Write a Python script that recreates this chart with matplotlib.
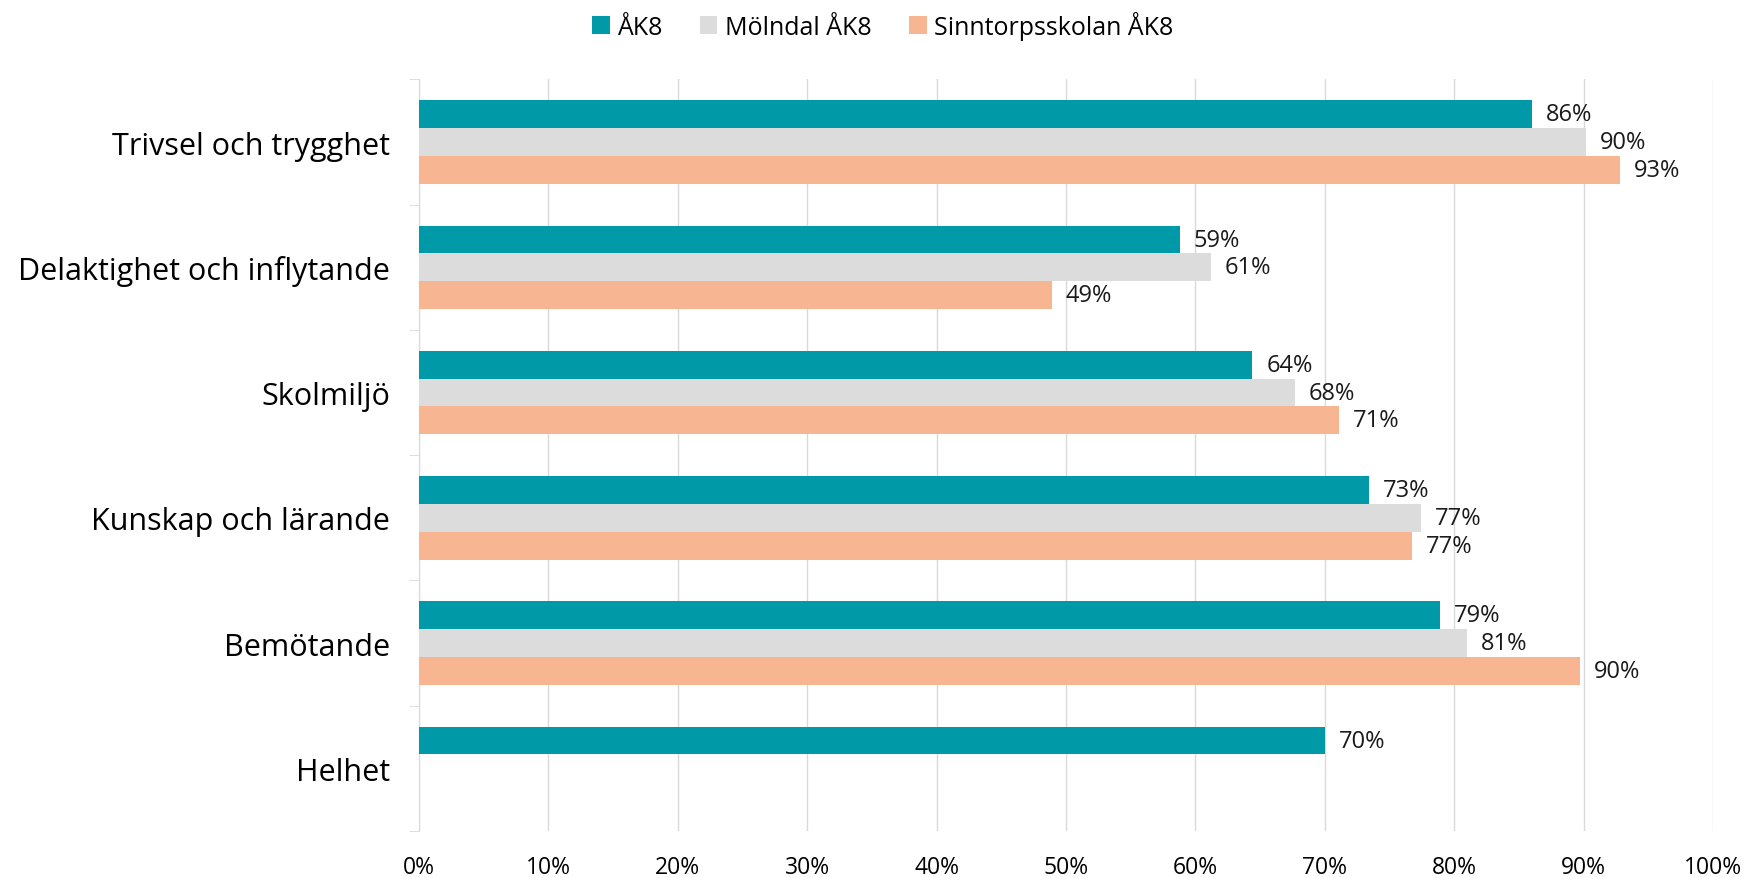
import numpy as np
import matplotlib
matplotlib.use('Agg')
import matplotlib.pyplot as plt
from matplotlib.ticker import FixedLocator, PercentFormatter

plt.rcParams['font.family'] = ['Open Sans', 'DejaVu Sans']

categories = ["Trivsel och trygghet", "Delaktighet och inflytande", "Skolmiljö",
              "Kunskap och lärande", "Bemötande", "Helhet"]
series_names = ["ÅK8", "Mölndal ÅK8", "Sinntorpsskolan ÅK8"]
ak8 = [0.86, 0.588, 0.644, 0.734, 0.789, 0.70]
molndal = [0.902, 0.612, 0.677, 0.774, 0.81, np.nan]
sinntorp = [0.928, 0.489, 0.711, 0.767, 0.897, np.nan]
value_labels = [["86%", "59%", "64%", "73%", "79%", "70%"],
                ["90%", "61%", "68%", "77%", "81%", ""],
                ["93%", "49%", "71%", "77%", "90%", ""]]
colors = ["#0099A8", "#DCDCDC", "#F8B592"]

fig = plt.figure(figsize=(17.48, 8.79), dpi=100)
ax = fig.add_axes([0.2397, 0.0535, 0.7403, 0.855])

y = np.arange(len(categories))
h = 0.222
for k, (vals, col, name) in enumerate(zip([ak8, molndal, sinntorp], colors, series_names)):
    pos = y + (k - 1) * h
    ax.barh(pos, vals, height=h, color=col, label=name, zorder=3)
    for p, v, lab in zip(pos, vals, value_labels[k]):
        if np.isnan(v):
            continue
        ax.annotate(lab, (v, p), xytext=(10, 0), textcoords="offset points",
                    va="center", ha="left", fontsize=17, color="#1a1a1a")

ax.set_ylim(len(categories) - 0.5, -0.5)
ax.set_xlim(0, 1)
ax.set_yticks(y)
ax.set_yticklabels(categories, fontsize=22)
ax.yaxis.set_minor_locator(FixedLocator(np.arange(-0.5, len(categories), 1)))
ax.tick_params(axis='y', which='major', length=0, pad=21)
ax.tick_params(axis='y', which='minor', length=7, color="#D9D9D9")

ax.set_xticks(np.arange(0, 1.01, 0.1))
ax.xaxis.set_major_formatter(PercentFormatter(1.0, decimals=0))
ax.tick_params(axis='x', length=0, labelsize=16.5, pad=17)
ax.grid(axis='x', color="#D9D9D9", linewidth=1, zorder=0)

for s in ['top', 'right', 'bottom']:
    ax.spines[s].set_visible(False)
ax.spines['left'].set_color("#D9D9D9")

fig.legend(loc='upper center', bbox_to_anchor=(0.505, 1.012), ncol=3, frameon=False,
           fontsize=18, handlelength=0.7, handleheight=0.7, handletextpad=0.3,
           columnspacing=1.5)

fig.savefig("out.png", dpi=100)
